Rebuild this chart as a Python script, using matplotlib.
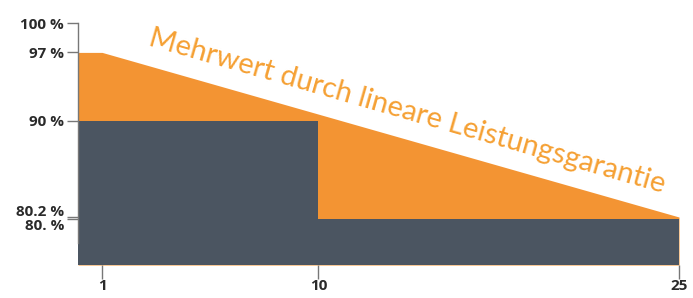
import matplotlib.pyplot as plt
from matplotlib.transforms import ScaledTranslation

# linear warranty (orange) and step warranty (dark)
lin_years = [0, 1, 25]
lin_values = [97, 97, 80.2]
step_years = [0, 10, 10, 25]
step_values = [90, 90, 80, 80]

ytick_vals = [100, 97, 90, 80.2, 80]
ytick_labels = ["100 %", "97 %", "90 %", "80.2 %", "80. %"]
xtick_vals = [1, 10, 25]
xtick_labels = ["1", "10", "25"]

orange = "#F39433"
dark = "#4B5561"
txt = "#2a2a2a"
ymin = 75.3

fig = plt.figure(figsize=(6.93, 2.98), dpi=100)
ax = fig.add_axes([0.1126, 0.1107, 0.8672, 0.8121])

ax.fill_between(lin_years, lin_values, ymin, color=orange, lw=0)
ax.fill_between(step_years, step_values, ymin, color=dark, lw=0)

ax.set_xlim(0, 25)
ax.set_ylim(ymin, 100)

for s in ["top", "right", "bottom"]:
    ax.spines[s].set_visible(False)
ax.spines["left"].set_bounds(77.5, 100)
ax.spines["left"].set_color("#777777")
ax.spines["left"].set_linewidth(1)

ax.set_yticks(ytick_vals)
ax.set_yticklabels(ytick_labels, fontfamily="Open Sans", fontweight="bold",
                   fontsize=11, color=txt)
ax.tick_params(axis="y", length=8, width=1, color="#777777", pad=2)

ax.set_xticks(xtick_vals)
ax.set_xticklabels(xtick_labels, fontfamily="Open Sans", fontweight="bold",
                   fontsize=11, color=txt)
ax.tick_params(axis="x", length=10, width=1, color="#777777", pad=0,
               direction="out")

# separate the two overlapping labels at 80.2 and 80
labs = ax.get_yticklabels()
labs[3].set_transform(labs[3].get_transform() +
                      ScaledTranslation(0, 5 / 72, fig.dpi_scale_trans))
labs[4].set_transform(labs[4].get_transform() +
                      ScaledTranslation(0, -4 / 72, fig.dpi_scale_trans))

ax.text(13.7, 91.0, "Mehrwert durch lineare Leistungsgarantie",
        color="#F5A033", fontsize=21, fontfamily="Lato",
        rotation=-16, rotation_mode="anchor", ha="center", va="center")

fig.savefig("out.png", dpi=100)
